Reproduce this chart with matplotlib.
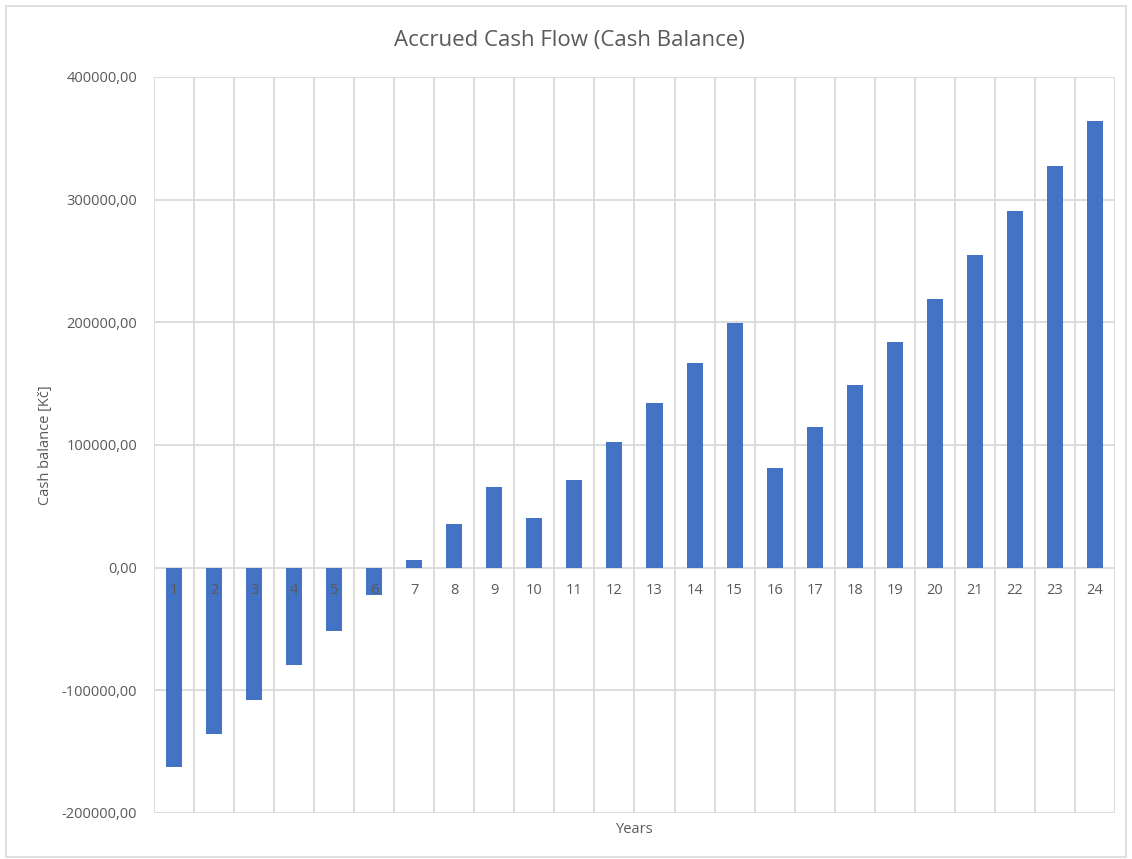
import matplotlib.pyplot as plt
import numpy as np
from matplotlib.patches import Rectangle

plt.rcParams['font.family'] = ['Open Sans', 'DejaVu Sans']

# data
years = [str(i) for i in range(1, 25)]
cash_balance = [-162400, -135500, -107600, -79600, -51300, -22000, 6300, 35900,
                66000, 40800, 71700, 102700, 134500, 167100, 199700, 81500,
                115000, 149200, 184200, 219300, 254800, 291000, 327600, 364500]
y_ticks = [-200000, -100000, 0, 100000, 200000, 300000, 400000]

text_color = '#595959'
grid_color = '#d9d9d9'
bar_color = '#4472C4'

fig = plt.figure(figsize=(11.32, 8.59), dpi=100)
fig.patches.append(Rectangle((0.005, 0.002), 0.99, 0.991, transform=fig.transFigure,
                             fill=False, edgecolor=grid_color, linewidth=1.2))

ax = fig.add_axes([0.136, 0.0536, 0.849, 0.8568])

x = np.arange(len(years))
ax.bar(x, cash_balance, width=0.4, color=bar_color, zorder=3)

ax.set_xlim(-0.5, len(years) - 0.5)
ax.set_ylim(-200000, 400000)
ax.set_yticks(y_ticks)
ax.set_yticklabels([f'{v},00' for v in y_ticks], color=text_color, fontsize=10.5)
ax.tick_params(axis='y', length=0, pad=12)

# vertical gridlines between categories
ax.set_xticks(np.arange(-0.5, len(years)), minor=True)
ax.set_xticks([])
ax.grid(axis='x', which='minor', color=grid_color, linewidth=1.3, zorder=0)
ax.grid(axis='y', which='major', color=grid_color, linewidth=1.3, zorder=0)
ax.tick_params(axis='x', which='both', length=0)

for s in ax.spines.values():
    s.set_visible(False)

# category labels next to the zero line
for i, lab in enumerate(years):
    ax.annotate(lab, xy=(i, 0), xytext=(0, -11), textcoords='offset points',
                ha='center', va='top', fontsize=10.5, color=text_color, zorder=4)

fig.text(0.503, 0.953, 'Accrued Cash Flow (Cash Balance)', fontsize=16,
         color=text_color, ha='center', va='center')
ax.set_ylabel('Cash balance [Kč]', fontsize=10.5, color=text_color, labelpad=6)
ax.set_xlabel('Years', fontsize=10.5, color=text_color, labelpad=3)

fig.savefig('out.png', dpi=100)
